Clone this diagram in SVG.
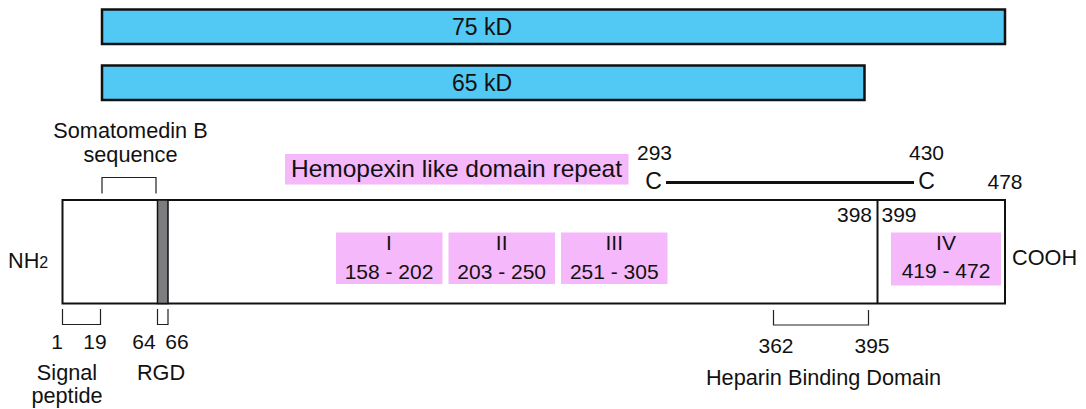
<svg xmlns="http://www.w3.org/2000/svg" width="1086" height="409" viewBox="0 0 1086 409">
<style>
text{font-family:"Liberation Sans","Open Sans",sans-serif;fill:#111;font-size:21px}
.lb{font-size:21.7px}
.m{text-anchor:middle}
.e{text-anchor:end}
.bar{fill:#52C8F5;stroke:#111;stroke-width:2.5}
.pk{fill:#F5B8FA}
.ln{fill:none;stroke:#222;stroke-width:1.2}
.box{fill:#fff;stroke:#111;stroke-width:2}
</style>
<rect width="1086" height="409" fill="#fff"/>
<g id="bar75"><rect class="bar" x="102" y="9.5" width="903" height="34.5"/><text class="m" x="482" y="35" style="font-size:23px">75 kD</text></g>
<g id="bar65"><rect class="bar" x="102" y="65.5" width="762.5" height="34.5"/><text class="m" x="482" y="91" style="font-size:23px">65 kD</text></g>
<g id="protein">
<rect class="box" x="62.5" y="200" width="942.5" height="103.5"/>
<line x1="877.5" y1="200" x2="877.5" y2="303.5" stroke="#111" stroke-width="2"/>
<rect x="157.5" y="200" width="10.5" height="103.5" fill="#7d7d7f" stroke="#111" stroke-width="1.5"/>
</g>
<g id="connectors">
<polyline class="ln" points="102,193.5 102,177.5 156,177.5 156,193.5"/>
<polyline class="ln" points="62.5,309 62.5,324.5 100.5,324.5 100.5,309"/>
<polyline class="ln" points="157.5,309 157.5,324.5 168,324.5 168,309"/>
<polyline class="ln" points="773.5,310 773.5,325 868.5,325 868.5,310"/>
<line x1="666" y1="182.5" x2="914" y2="182.5" stroke="#111" stroke-width="3"/>
</g>
<g id="somatomedin"><text class="m lb" x="130.5" y="138">Somatomedin B</text><text class="m lb" x="130.5" y="162">sequence</text></g>
<g id="nh2"><text class="lb" x="8" y="268">NH<tspan style="font-size:16px">2</tspan></text></g>
<g id="cooh"><text class="lb" x="1012" y="265">COOH</text></g>
<g id="positions">
<text class="m" x="57" y="349">1</text>
<text class="m" x="95" y="349">19</text>
<text class="m" x="144" y="349">64</text>
<text class="m" x="177" y="349">66</text>
<text class="m" x="654.5" y="160">293</text>
<text class="m" x="926.5" y="160">430</text>
<text class="m" x="1005" y="189">478</text>
<text class="e" x="872" y="222">398</text>
<text x="881.5" y="222">399</text>
<text class="m" x="776" y="353">362</text>
<text class="m" x="872" y="353">395</text>
</g>
<g id="signal"><text class="m lb" x="67" y="380">Signal</text><text class="m lb" x="67" y="403">peptide</text></g>
<g id="rgd"><text class="m lb" x="161" y="380">RGD</text></g>
<g id="heparin"><text class="m lb" x="823.5" y="385">Heparin Binding Domain</text></g>
<g id="cys"><text class="m" x="653.5" y="189" style="font-size:23px">C</text><text class="m" x="926.5" y="189" style="font-size:23px">C</text></g>
<g id="hemopexin"><rect class="pk" x="285" y="154" width="343.5" height="30.5"/><text class="m" x="456.5" y="177" style="font-size:24px" textLength="331" lengthAdjust="spacingAndGlyphs">Hemopexin like domain repeat</text></g>
<g id="repeat1"><rect class="pk" x="336" y="232.5" width="106.5" height="51.5"/><text class="m" x="389" y="250">I</text><text class="m" x="389" y="278.5">158 - 202</text></g>
<g id="repeat2"><rect class="pk" x="448.5" y="232.5" width="106.5" height="51.5"/><text class="m" x="501.7" y="250">II</text><text class="m" x="501.7" y="278.5">203 - 250</text></g>
<g id="repeat3"><rect class="pk" x="561" y="232.5" width="106.5" height="51.5"/><text class="m" x="614.3" y="250">III</text><text class="m" x="614.3" y="278.5">251 - 305</text></g>
<g id="repeat4"><rect class="pk" x="891" y="232.5" width="110" height="53"/><text class="m" x="946" y="250">IV</text><text class="m" x="946" y="278">419 - 472</text></g>
</svg>
